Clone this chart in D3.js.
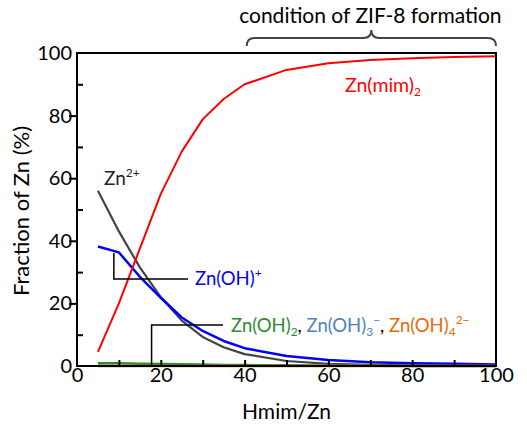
<!DOCTYPE html>
<html>
<head>
<meta charset="utf-8">
<script src="https://cdn.jsdelivr.net/npm/d3@7"></script>
<style>
  body { margin: 0; background: #fff; }
  svg text { font-family: Lato, "Open Sans", sans-serif; }
</style>
</head>
<body>
<div class="chart"></div>
<script>
// Hmim/Zn ratios
var ratios = [5, 10, 15, 20, 25, 30, 35, 40, 50, 60, 70, 80, 90, 100];
// fraction of Zn (%) per species
var znMim2 = [4.5, 20, 37.5, 55, 68.5, 78.8, 85.3, 90, 94.6, 96.7, 97.8, 98.3, 98.7, 99];
var zn2 = [56, 43, 31.5, 22, 14.5, 9.3, 6, 3.8, 1.6, 0.7, 0.35, 0.2, 0.12, 0.08];
var znOH = [38.2, 36.3, 28.5, 21.8, 15.5, 11.2, 8, 5.7, 3.2, 1.9, 1.2, 0.9, 0.7, 0.5];
var znOH2 = [0.9, 0.85, 0.75, 0.65, 0.55, 0.45, 0.35, 0.3, 0.2, 0.1, 0.05, 0.03, 0.02, 0.01];
var znOH3 = [0.05, 0.04, 0.03, 0.03, 0.02, 0.02, 0.01, 0.01, 0.01, 0, 0, 0, 0, 0];
var znOH4 = [0, 0, 0, 0, 0, 0, 0, 0, 0, 0, 0, 0, 0, 0];

var xMajor = [0, 20, 40, 60, 80, 100];
var xMinor = [10, 20, 30, 40, 50, 60, 70, 80, 90];
var yMajor = [0, 20, 40, 60, 80, 100];
var yMinor = [10, 30, 50, 70, 90];

var W = 527, H = 425;
var M = {left: 77, right: 31, top: 53, bottom: 59};

var svg = d3.select(".chart").append("svg")
    .attr("width", W)
    .attr("height", H);

var x = d3.scaleLinear().domain([0, 100]).range([M.left, W - M.right]);
var y = d3.scaleLinear().domain([0, 100]).range([H - M.bottom, M.top]);

var line = function(vals) {
  return d3.line()
    .x(function(d, i) { return x(ratios[i]); })
    .y(function(d) { return y(d); })(vals);
};

// series, drawn bottom-up so red sits on top like the original
var series = [
  {vals: zn2, color: "#444444", w: 2.2},
  {vals: znOH, color: "#0000ff", w: 2.5},
  {vals: znOH3, color: "#4f81bd", w: 2},
  {vals: znOH2, color: "#2e8b2e", w: 2.5},
  {vals: znOH4, color: "#e46c0a", w: 2.5},
  {vals: znMim2, color: "#ff0000", w: 2}
];
svg.append("g").selectAll("path")
  .data(series)
  .enter().append("path")
    .attr("d", function(d) { return line(d.vals); })
    .attr("fill", "none")
    .attr("stroke", function(d) { return d.color; })
    .attr("stroke-width", function(d) { return d.w; })
    .attr("stroke-linejoin", "round");

// axes
var yAxis = svg.append("g")
    .attr("transform", "translate(" + M.left + ",0)")
    .call(d3.axisLeft(y).tickValues(yMajor).tickSize(8).tickPadding(-3));
yAxis.select(".domain").remove();
yAxis.selectAll(".tick line")
    .attr("stroke-width", 2)
    .attr("display", function(d) { return (d == 0 || d == 100) ? "none" : null; });
yAxis.selectAll("text").attr("font-size", 20).attr("fill", "#000")
    .style("font-family", "Lato, sans-serif");

var yMinorAxis = svg.append("g")
    .attr("transform", "translate(" + M.left + ",0)")
    .call(d3.axisLeft(y).tickValues(yMinor).tickSize(-6).tickFormat(""));
yMinorAxis.select(".domain").remove();
yMinorAxis.selectAll(".tick line").attr("stroke-width", 2);

var xAxis = svg.append("g")
    .attr("transform", "translate(0," + (H - M.bottom) + ")")
    .call(d3.axisBottom(x).tickValues(xMajor).tickSize(0).tickPadding(2));
xAxis.select(".domain").remove();
xAxis.selectAll("text").attr("font-size", 20).attr("fill", "#000")
    .style("font-family", "Lato, sans-serif");

var xMinorAxis = svg.append("g")
    .attr("transform", "translate(0," + (H - M.bottom) + ")")
    .call(d3.axisBottom(x).tickValues(xMinor).tickSize(-6).tickFormat(""));
xMinorAxis.select(".domain").remove();
xMinorAxis.selectAll(".tick line").attr("stroke-width", 2);

// frame
svg.append("rect")
    .attr("x", M.left)
    .attr("y", M.top)
    .attr("width", W - M.right - M.left)
    .attr("height", H - M.bottom - M.top)
    .attr("fill", "none")
    .attr("stroke", "#000")
    .attr("stroke-width", 2);

// axis titles
svg.append("text")
    .attr("x", x(50))
    .attr("y", 419)
    .attr("text-anchor", "middle")
    .attr("font-size", 21)
    .text("Hmim/Zn");
svg.append("text")
    .attr("transform", "translate(29," + 211 + ") rotate(-90)")
    .attr("text-anchor", "middle")
    .attr("font-size", 22)
    .text("Fraction of Zn (%)");

// brace + label above the plot
var bx0 = x(40.5), bx1 = x(100), bm = (bx0 + bx1) / 2;
svg.append("path")
    .attr("d", "M" + bx0 + ",46 Q" + bx0 + ",38 " + (bx0 + 8) + ",38 L" + (bm - 8) + ",38 Q" + bm + ",38 " + bm + ",30" +
               " Q" + bm + ",38 " + (bm + 8) + ",38 L" + (bx1 - 8) + ",38 Q" + bx1 + ",38 " + bx1 + ",46")
    .attr("fill", "none")
    .attr("stroke", "#444")
    .attr("stroke-width", 2);
svg.append("text")
    .attr("x", bm - 1)
    .attr("y", 23)
    .attr("text-anchor", "middle")
    .attr("font-size", 21)
    .text("condition of ZIF-8 formation");

// species labels
svg.append("text")
    .attr("x", 345).attr("y", 92)
    .attr("font-size", 19.5).attr("fill", "#ff0000")
    .text("Zn(mim)")
  .append("tspan").attr("font-size", 12).attr("dy", 4).text("2");

svg.append("text")
    .attr("x", 104).attr("y", 185)
    .attr("font-size", 19).attr("fill", "#222")
    .text("Zn")
  .append("tspan").attr("font-size", 12).attr("dy", -8).text("2+");

// leader lines
var leaders = [
  [[x(8.8), 253], [x(8.8), 279], [188, 279]],
  [[x(17.8), H - M.bottom], [x(17.8), 325], [223, 325]]
];
svg.append("g").selectAll("path")
  .data(leaders)
  .enter().append("path")
    .attr("d", d3.line())
    .attr("fill", "none")
    .attr("stroke", "#000")
    .attr("stroke-width", 1.5);

svg.append("text")
    .attr("x", 195).attr("y", 285)
    .attr("font-size", 18.5).attr("fill", "#0000ff")
    .text("Zn(OH)")
  .append("tspan").attr("font-size", 12).attr("dy", -8).text("+");

var hyd = svg.append("text")
    .attr("x", 231).attr("y", 332)
    .attr("font-size", 18.5);
hyd.append("tspan").attr("fill", "#2e8b2e").text("Zn(OH)");
hyd.append("tspan").attr("fill", "#2e8b2e").attr("font-size", 12).attr("dy", 4).text("2");
hyd.append("tspan").attr("fill", "#000").attr("dy", -4).text(", ");
hyd.append("tspan").attr("fill", "#4f81bd").text("Zn(OH)");
hyd.append("tspan").attr("fill", "#4f81bd").attr("font-size", 12).attr("dy", 4).text("3");
hyd.append("tspan").attr("fill", "#4f81bd").attr("font-size", 12).attr("dy", -12).text("\u2212");
hyd.append("tspan").attr("fill", "#000").attr("dy", 8).text(", ");
hyd.append("tspan").attr("fill", "#e46c0a").text("Zn(OH)");
hyd.append("tspan").attr("fill", "#e46c0a").attr("font-size", 12).attr("dy", 4).text("4");
hyd.append("tspan").attr("fill", "#e46c0a").attr("font-size", 12).attr("dy", -12).text("2\u2212");
</script>
</body>
</html>
